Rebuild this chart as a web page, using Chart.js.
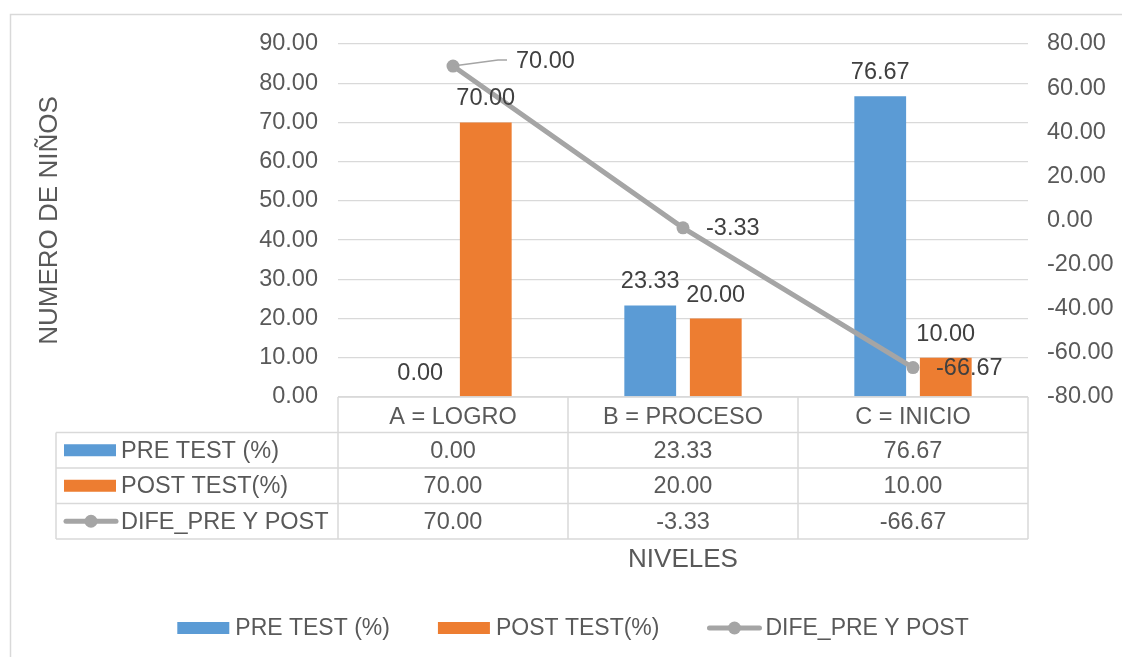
<!DOCTYPE html>
<html>
<head>
<meta charset="utf-8">
<script src="https://cdn.jsdelivr.net/npm/chart.js@4.4.1/dist/chart.umd.min.js"></script>
<style>
    html, body { margin: 0; padding: 0; background: #fff; }
    #wrap { width: 1122px; height: 657px; }
</style>
</head>
<body>
<div id="wrap"><canvas id="nivelesChart" width="1122" height="657"></canvas></div>
<script>
// Datos del gráfico
const niveles = ['A = LOGRO', 'B = PROCESO', 'C = INICIO'];
const preTest = [0.00, 23.33, 76.67];
const postTest = [70.00, 20.00, 10.00];
const diferencia = [70.00, -3.33, -66.67];
const series = ['PRE TEST (%)', 'POST TEST(%)', 'DIFE_PRE Y POST'];
const ejeIzq = [0, 90, 10];     // min, max, paso
const ejeDer = [-80, 80, 20];

const AZUL = '#5b9bd5';
const NARANJA = '#ed7d31';
const GRIS = '#a5a5a5';
const TEXTO = '#595959';
const ETIQUETA = '#404040';
const LINEA = '#d9d9d9';
const FUENTE = "'Liberation Sans', Arial, sans-serif";
const TAM = 23.5;      // texto general
const TAM_TITULO = 26; // títulos de ejes

// dibuja la clave de cada serie (rectángulo o línea con punto)
function dibujarClave(ctx, tipo, color, x, y) {
    if (tipo === 'barra') {
        ctx.fillStyle = color;
        ctx.fillRect(x, y - 6, 52, 12);
    } else {
        ctx.strokeStyle = color;
        ctx.lineWidth = 5;
        ctx.lineCap = 'round';
        ctx.beginPath();
        ctx.moveTo(x + 2, y);
        ctx.lineTo(x + 52, y);
        ctx.stroke();
        ctx.fillStyle = color;
        ctx.beginPath();
        ctx.arc(x + 27, y, 6.5, 0, Math.PI * 2);
        ctx.fill();
    }
}

const filas = [
    { nombre: series[0], datos: preTest, tipo: 'barra', color: AZUL },
    { nombre: series[1], datos: postTest, tipo: 'barra', color: NARANJA },
    { nombre: series[2], datos: diferencia, tipo: 'linea', color: GRIS }
];

// Tabla de datos bajo el eje X + leyenda + borde
const tablaDatos = {
    id: 'tablaDatos',
    afterDraw(chart) {
        const { ctx, chartArea: ca, scales } = chart;
        const n = niveles.length;
        const colW = (ca.right - ca.left) / n;
        const filaH = 35.5;
        const top = ca.bottom;
        const izq = 56;

        ctx.save();
        ctx.strokeStyle = LINEA;
        ctx.lineWidth = 1.5;
        ctx.beginPath();
        ctx.moveTo(ca.left, top);
        ctx.lineTo(ca.right, top);
        for (let r = 1; r <= filas.length + 1; r++) {
            const y = top + r * filaH;
            ctx.moveTo(izq, y);
            ctx.lineTo(ca.right, y);
        }
        for (let c = 0; c <= n; c++) {
            const xx = ca.left + c * colW;
            ctx.moveTo(xx, top);
            ctx.lineTo(xx, top + (filas.length + 1) * filaH);
        }
        ctx.moveTo(izq, top + filaH);
        ctx.lineTo(izq, top + (filas.length + 1) * filaH);
        ctx.stroke();

        ctx.font = TAM + 'px ' + FUENTE;
        ctx.textBaseline = 'middle';
        filas.forEach((f, r) => {
            const yc = top + (r + 1.5) * filaH;
            dibujarClave(ctx, f.tipo, f.color, 64, yc);
            ctx.fillStyle = TEXTO;
            ctx.textAlign = 'left';
            ctx.fillText(f.nombre, 121, yc + 1);
            ctx.textAlign = 'center';
            f.datos.forEach((v, i) => {
                ctx.fillText(v.toFixed(2), scales.x.getPixelForValue(i), yc + 1);
            });
        });

        // leyenda inferior
        const yLeg = 628;
        ctx.font = '23px ' + FUENTE;
        ctx.textAlign = 'left';
        let total = 0;
        const anchos = filas.map(f => ctx.measureText(f.nombre).width);
        anchos.forEach(w => { total += 52 + 6 + w; });
        total += 48 * (filas.length - 1);
        let xl = 573 - total / 2;
        filas.forEach((f, k) => {
            dibujarClave(ctx, f.tipo, f.color, xl, yLeg);
            ctx.fillStyle = TEXTO;
            ctx.fillText(f.nombre, xl + 58, yLeg + 1);
            xl += 58 + anchos[k] + 48;
        });

        // borde del gráfico
        ctx.strokeStyle = LINEA;
        ctx.lineWidth = 1.5;
        ctx.strokeRect(10.5, 14.5, 1140, 680);
        ctx.restore();
    }
};

// Etiquetas de datos
const etiquetas = {
    id: 'etiquetas',
    afterDatasetsDraw(chart) {
        const { ctx } = chart;
        ctx.save();
        ctx.font = TAM + 'px ' + FUENTE;
        ctx.fillStyle = ETIQUETA;
        [0, 1].forEach(d => {
            const meta = chart.getDatasetMeta(d);
            ctx.textAlign = 'center';
            ctx.textBaseline = 'alphabetic';
            meta.data.forEach((el, i) => {
                const v = chart.data.datasets[d].data[i];
                ctx.fillText(v.toFixed(2), el.x, el.y - 17);
            });
        });
        const metaL = chart.getDatasetMeta(2);
        ctx.textAlign = 'left';
        ctx.textBaseline = 'middle';
        metaL.data.forEach((el, i) => {
            const v = diferencia[i];
            if (i === 0) {
                // etiqueta desplazada con línea guía
                ctx.strokeStyle = GRIS;
                ctx.lineWidth = 1.5;
                ctx.beginPath();
                ctx.moveTo(el.x, el.y);
                ctx.lineTo(el.x + 45, el.y - 6);
                ctx.lineTo(el.x + 54, el.y - 6);
                ctx.stroke();
                ctx.fillText(v.toFixed(2), el.x + 63, el.y - 5);
            } else {
                ctx.fillText(v.toFixed(2), el.x + 23, el.y + 1);
            }
        });
        ctx.restore();
    }
};

const ctx = document.getElementById('nivelesChart');
const chartCtx = ctx.getContext('2d');

const nivelesChart = new Chart(chartCtx, {
    type: 'bar',
    data: {
        labels: niveles,
        datasets: [{
            label: series[0],
            data: preTest,
            backgroundColor: AZUL,
            yAxisID: 'y',
            categoryPercentage: 0.57,
            barPercentage: 0.79,
            order: 2
        }, {
            label: series[1],
            data: postTest,
            backgroundColor: NARANJA,
            yAxisID: 'y',
            categoryPercentage: 0.57,
            barPercentage: 0.79,
            order: 2
        }, {
            type: 'line',
            label: series[2],
            data: diferencia,
            yAxisID: 'y1',
            borderColor: GRIS,
            backgroundColor: GRIS,
            borderWidth: 5,
            pointRadius: 6.5,
            pointBorderWidth: 0,
            pointBackgroundColor: GRIS,
            tension: 0,
            order: 1
        }]
    },
    options: {
        responsive: false,
        animation: false,
        devicePixelRatio: 1,
        layout: { padding: { left: 10, right: 0, top: 44, bottom: 0 } },
        plugins: {
            legend: { display: false },
            tooltip: { enabled: false }
        },
        scales: {
            x: {
                grid: { display: false },
                border: { display: false },
                ticks: { color: TEXTO, font: { family: FUENTE, size: TAM }, padding: -2 },
                title: {
                    display: true,
                    text: 'NIVELES',
                    color: TEXTO,
                    font: { family: FUENTE, size: TAM_TITULO },
                    padding: { top: 0, bottom: 82 }
                },
                afterFit(scale) { scale.height = 260; }
            },
            y: {
                position: 'left',
                min: ejeIzq[0],
                max: ejeIzq[1],
                ticks: {
                    stepSize: ejeIzq[2],
                    color: TEXTO,
                    font: { family: FUENTE, size: TAM },
                    padding: 20,
                    callback: v => v.toFixed(2)
                },
                grid: { color: LINEA, lineWidth: 1.3, drawTicks: false },
                border: { display: false },
                title: {
                    display: true,
                    text: 'NUMERO DE NIÑOS',
                    color: TEXTO,
                    font: { family: FUENTE, size: TAM_TITULO },
                    padding: { top: 24, bottom: 0 }
                },
                afterFit(scale) { scale.width = 328; }
            },
            y1: {
                position: 'right',
                min: ejeDer[0],
                max: ejeDer[1],
                ticks: {
                    stepSize: ejeDer[2],
                    color: TEXTO,
                    font: { family: FUENTE, size: TAM },
                    padding: 19,
                    callback: v => v.toFixed(2)
                },
                grid: { display: false, drawTicks: false },
                border: { display: false },
                afterFit(scale) { scale.width = 94; }
            }
        }
    },
    plugins: [tablaDatos, etiquetas]
});
</script>
</body>
</html>
